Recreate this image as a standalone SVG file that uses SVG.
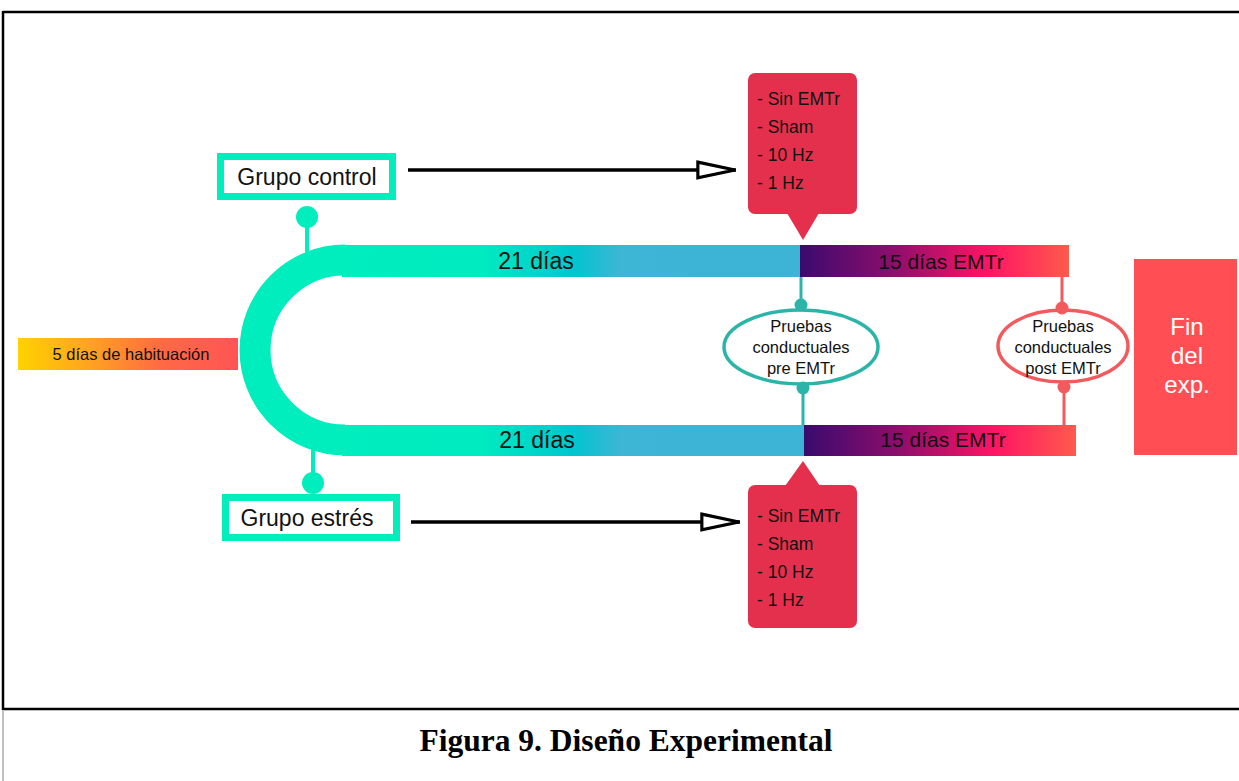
<svg xmlns="http://www.w3.org/2000/svg" width="1239" height="781" viewBox="0 0 1239 781">
<style>
.t{font-family:"Liberation Sans",Arial,sans-serif;fill:#111}
.box{fill:#fff;stroke:#00EDBE;stroke-width:7}
.cb{fill:#E5304D}
.arr{stroke:#000;stroke-width:3.5;fill:none}
</style>
<defs>
<linearGradient id="g21" gradientUnits="userSpaceOnUse" x1="342" y1="0" x2="805" y2="0">
<stop offset="0" stop-color="#00EDBE"/>
<stop offset="0.3" stop-color="#00EBC0"/>
<stop offset="0.5" stop-color="#00C6CF"/>
<stop offset="0.6" stop-color="#3DB5D5"/>
<stop offset="1" stop-color="#3DB3D6"/>
</linearGradient>
<linearGradient id="g15" x1="0" y1="0" x2="1" y2="0">
<stop offset="0" stop-color="#3A0A6E"/>
<stop offset="0.35" stop-color="#8E0E6C"/>
<stop offset="0.7" stop-color="#FF1464"/>
<stop offset="1" stop-color="#FF5A4C"/>
</linearGradient>
<linearGradient id="g5" x1="0" y1="0" x2="1" y2="0">
<stop offset="0" stop-color="#FFD200"/>
<stop offset="0.3" stop-color="#FFA71E"/>
<stop offset="0.65" stop-color="#FF6A45"/>
<stop offset="1" stop-color="#FF5454"/>
</linearGradient>
<marker id="oa" markerWidth="13" markerHeight="6" refX="11.5" refY="3" orient="auto" markerUnits="strokeWidth">
<path d="M0.6,0.75 L11.2,3 L0.6,5.25 Z" fill="#fff" stroke="#000" stroke-width="0.9"/>
</marker>
</defs>
<g id="frame">
<line x1="3" y1="12" x2="1239" y2="12" stroke="#000" stroke-width="2.5"/>
<line x1="3" y1="11" x2="3" y2="710" stroke="#000" stroke-width="2.5"/>
<line x1="3" y1="709" x2="1239" y2="709" stroke="#000" stroke-width="2.5"/>
<line x1="3" y1="710" x2="3" y2="781" stroke="#c0c0c0" stroke-width="2"/>
</g>
<g id="connectors">
<line x1="307" y1="217" x2="307" y2="252" stroke="#00EDBE" stroke-width="4"/>
<circle cx="307" cy="217" r="11" fill="#00EDBE"/>
<line x1="313" y1="450" x2="313" y2="483" stroke="#00EDBE" stroke-width="4"/>
<circle cx="313" cy="483" r="11" fill="#00EDBE"/>
<line x1="408" y1="170" x2="736" y2="170" class="arr" marker-end="url(#oa)"/>
<line x1="411" y1="522" x2="740" y2="522" class="arr" marker-end="url(#oa)"/>
<line x1="801" y1="276" x2="801" y2="305" stroke="#2BB5A9" stroke-width="3"/>
<line x1="803" y1="388" x2="803" y2="426" stroke="#2BB5A9" stroke-width="3"/>
<line x1="1062" y1="276" x2="1062" y2="308" stroke="#F25A5E" stroke-width="3"/>
<line x1="1064" y1="386" x2="1064" y2="426" stroke="#F25A5E" stroke-width="3"/>
</g>
<g id="timeline">
<path d="M345,260 A90,90 0 0 0 345,440" fill="none" stroke="#00EDBE" stroke-width="31"/>
<rect x="342" y="245" width="460" height="32" fill="url(#g21)"/>
<rect x="342" y="425" width="464" height="31" fill="url(#g21)"/>
<rect x="800" y="245" width="269" height="32" fill="url(#g15)"/>
<rect x="804" y="425" width="272" height="31" fill="url(#g15)"/>
<text class="t" x="536" y="269" font-size="23" text-anchor="middle">21 días</text>
<text class="t" x="537" y="448" font-size="23" text-anchor="middle">21 días</text>
<text class="t" x="941" y="269" font-size="21" text-anchor="middle">15 días EMTr</text>
<text class="t" x="943" y="447" font-size="21" text-anchor="middle">15 días EMTr</text>
</g>
<g id="habituacion">
<rect x="18" y="338" width="220" height="32" fill="url(#g5)"/>
<text class="t" x="131" y="360" font-size="16.5" text-anchor="middle">5 días de habituación</text>
</g>
<g id="grupo-control">
<rect x="220.5" y="156.5" width="172" height="40" class="box"/>
<text class="t" x="307" y="185" font-size="23" text-anchor="middle">Grupo control</text>
</g>
<g id="grupo-estres">
<rect x="225.5" y="497.5" width="171" height="40" class="box"/>
<text class="t" x="307" y="526" font-size="23" text-anchor="middle">Grupo estrés</text>
</g>
<g id="callout-top">
<rect x="748" y="73" width="109" height="141" rx="7" class="cb"/>
<path d="M787,213 L803,240 L819,213 Z" class="cb"/>
<text class="t" font-size="17.5" x="757"><tspan x="757" y="105">- Sin EMTr</tspan><tspan x="757" y="133">- Sham</tspan><tspan x="757" y="161">- 10 Hz</tspan><tspan x="757" y="189">- 1 Hz</tspan></text>
</g>
<g id="callout-bottom">
<rect x="748" y="485" width="109" height="143" rx="7" class="cb"/>
<path d="M785,486 L803,461 L820,486 Z" class="cb"/>
<text class="t" font-size="17.5" x="757"><tspan x="757" y="522">- Sin EMTr</tspan><tspan x="757" y="550">- Sham</tspan><tspan x="757" y="578">- 10 Hz</tspan><tspan x="757" y="606">- 1 Hz</tspan></text>
</g>
<g id="pruebas-pre">
<ellipse cx="801" cy="347" rx="77" ry="37" fill="#fff" stroke="#2BB5A9" stroke-width="3.5"/>
<circle cx="801" cy="305" r="6.5" fill="#2BB5A9"/>
<circle cx="803" cy="388" r="6.5" fill="#2BB5A9"/>
<text class="t" font-size="16.5" text-anchor="middle"><tspan x="801" y="332">Pruebas</tspan><tspan x="801" y="353">conductuales</tspan><tspan x="801" y="374">pre EMTr</tspan></text>
</g>
<g id="pruebas-post">
<ellipse cx="1063" cy="346" rx="65" ry="36" fill="#fff" stroke="#F25A5E" stroke-width="3.5"/>
<circle cx="1062" cy="308" r="6.5" fill="#F25A5E"/>
<circle cx="1064" cy="387" r="6.5" fill="#F25A5E"/>
<text class="t" font-size="16.5" text-anchor="middle"><tspan x="1063" y="332">Pruebas</tspan><tspan x="1063" y="353">conductuales</tspan><tspan x="1063" y="374">post EMTr</tspan></text>
</g>
<g id="fin">
<rect x="1134" y="259" width="103" height="196" fill="#FF4F55"/>
<text font-family="Liberation Sans,Arial,sans-serif" font-size="24" fill="#fff" text-anchor="middle"><tspan x="1187" y="335">Fin</tspan><tspan x="1187" y="364">del</tspan><tspan x="1187" y="393">exp.</tspan></text>
</g>
<text x="626" y="751" font-family="Liberation Serif,'Times New Roman',serif" font-size="31.5" font-weight="bold" fill="#000" text-anchor="middle">Figura 9. Diseño Experimental</text>
</svg>
